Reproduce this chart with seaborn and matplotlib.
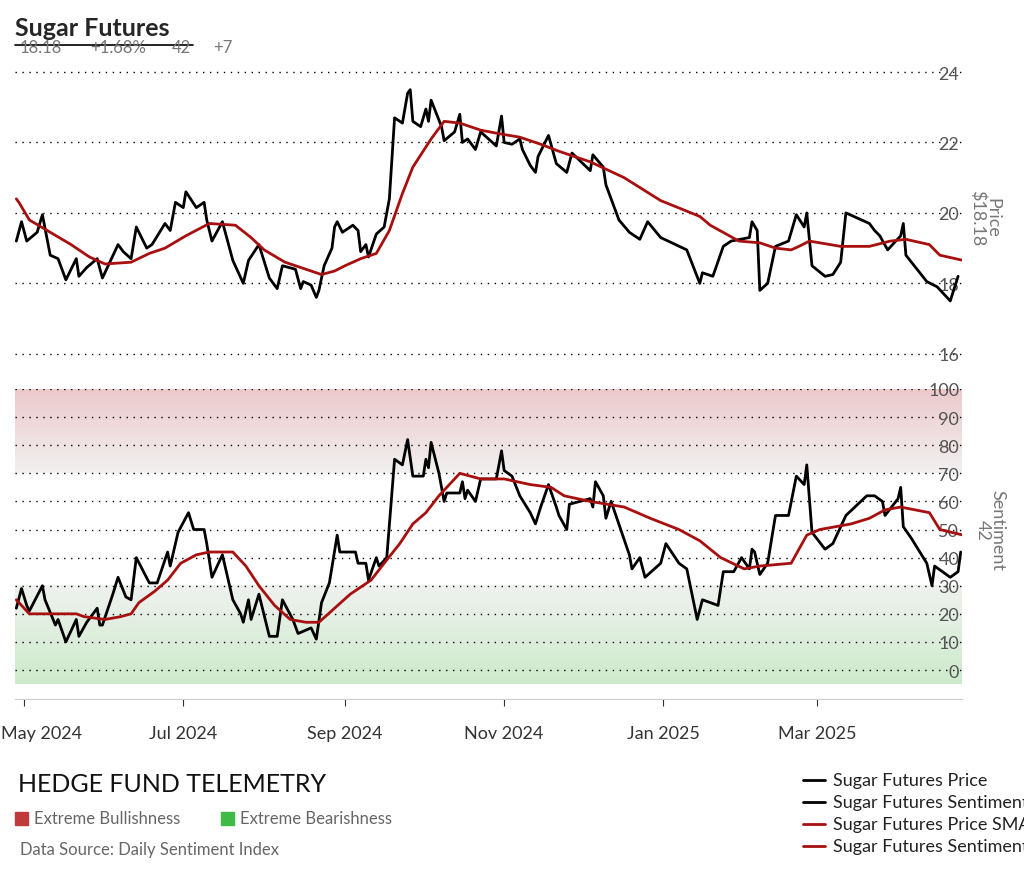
import numpy as np
import pandas as pd
import matplotlib.pyplot as plt
import matplotlib.transforms as mtransforms
import seaborn as sns
from matplotlib.lines import Line2D
from matplotlib.patches import Rectangle

# days since 2024-05-01
price_day = [-3, -1, 1, 5, 7, 10, 13, 16, 20, 21, 24, 28, 30, 36, 38, 41, 43, 47, 49, 54, 56, 58, 61, 62, 66, 69, 70, 72, 76, 80,
             84, 86, 90, 94, 97, 99, 104, 106, 107, 110, 112, 113, 115, 118, 119, 120, 122, 126, 128, 129, 131, 132, 135, 138, 140,
             142, 145, 147, 148, 149, 152, 154, 155, 156, 160, 161, 165, 167, 168, 170, 173, 175, 181, 183, 184, 187, 190, 191, 194,
             196, 197, 201, 204, 208, 210, 217, 218, 222, 223, 228, 232, 236, 239, 244, 254, 259, 260, 264, 268, 271, 278, 279, 281,
             282, 285, 288, 293, 296, 299, 300, 302, 307, 310, 313, 315, 324, 326, 328, 331, 336, 337, 338, 346, 350, 355, 358]
price = [19.2, 19.75, 19.2, 19.45, 19.95, 18.8, 18.7, 18.1, 18.7, 18.2, 18.45, 18.7, 18.15, 19.1, 18.9, 18.7, 19.6, 19.0, 19.1, 19.7,
         19.5, 20.3, 20.15, 20.6, 20.15, 20.3, 19.8, 19.2, 19.75, 18.65, 18.0, 18.65, 19.1, 18.15, 17.85, 18.5, 18.4, 17.85, 18.05,
         17.95, 17.6, 17.8, 18.5, 19.0, 19.6, 19.75, 19.45, 19.65, 19.5, 18.9, 19.1, 18.75, 19.4, 19.6, 20.4, 22.7, 22.55, 23.4, 23.5,
         22.6, 22.45, 22.95, 22.6, 23.2, 22.45, 22.05, 22.3, 22.8, 22.0, 22.1, 21.8, 22.3, 21.9, 22.75, 22.0, 21.95, 22.1, 21.8, 21.35,
         21.15, 21.6, 22.2, 21.4, 21.15, 21.7, 21.2, 21.65, 21.3, 20.8, 19.8, 19.45, 19.25, 19.75, 19.3, 18.95, 18.0, 18.3, 18.2, 19.05,
         19.2, 19.3, 19.75, 19.5, 17.8, 18.0, 19.05, 19.2, 19.95, 19.6, 20.0, 18.5, 18.2, 18.25, 18.6, 20.0, 19.7, 19.5, 19.35, 18.95,
         19.35, 19.7, 18.8, 18.05, 17.9, 17.5, 18.2]

price_sma_day = [-3, -2, 2, 10, 18, 25, 31, 41, 48, 54, 62, 71, 81, 87, 92, 100, 108, 114, 119, 123, 129, 135, 140, 145, 149, 156,
                 161, 167, 175, 182, 190, 198, 205, 217, 230, 244, 259, 263, 274, 282, 288, 294, 297, 301, 313, 324, 332, 338, 347,
                 351, 360]
price_sma = [20.4, 20.3, 19.8, 19.45, 19.1, 18.75, 18.55, 18.6, 18.85, 19.0, 19.35, 19.7, 19.65, 19.3, 18.95, 18.6, 18.4, 18.25,
             18.35, 18.5, 18.7, 18.85, 19.5, 20.55, 21.3, 22.1, 22.6, 22.55, 22.35, 22.25, 22.15, 21.95, 21.75, 21.45, 21.0, 20.35,
             19.9, 19.65, 19.2, 19.15, 19.0, 18.95, 19.05, 19.2, 19.05, 19.05, 19.2, 19.25, 19.1, 18.8, 18.65]

sent_day = [-3, -1, 1, 2, 7, 8, 12, 13, 16, 20, 21, 24, 28, 29, 30, 34, 36, 39, 41, 43, 48, 51, 55, 56, 59, 63, 65, 69, 70, 72, 76,
            80, 83, 84, 86, 87, 90, 94, 97, 99, 103, 105, 110, 112, 114, 117, 120, 121, 127, 128, 131, 132, 135, 136, 139, 142, 145,
            147, 149, 153, 154, 155, 156, 159, 161, 162, 167, 168, 169, 170, 173, 175, 181, 183, 184, 187, 190, 194, 196, 198, 201,
            204, 205, 208, 209, 217, 218, 219, 222, 223, 225, 232, 233, 236, 238, 244, 246, 251, 254, 258, 260, 266, 268, 272, 275,
            278, 279, 280, 282, 285, 288, 293, 296, 299, 300, 302, 307, 310, 313, 315, 323, 326, 329, 330, 335, 336, 337, 340, 346,
            348, 349, 355, 358, 359]
sentiment = [22, 29, 23, 21, 30, 25, 16, 18, 10, 18, 12, 17, 22, 16, 16, 27, 33, 26, 25, 40, 31, 31, 42, 37, 49, 56, 50, 50, 45, 33,
             41, 25, 20, 17, 25, 18, 27, 12, 12, 25, 18, 13, 15, 11, 24, 31, 48, 42, 42, 38, 38, 32, 40, 37, 40, 75, 73, 82, 69, 69, 75,
             72, 81, 70, 60, 63, 63, 67, 61, 64, 60, 68, 68, 78, 71, 69, 62, 56, 52, 58, 66, 58, 55, 50, 59, 61, 58, 67, 62, 54, 60, 41,
             36, 40, 33, 38, 45, 38, 36, 18, 25, 23, 35, 35, 40, 36, 43, 42, 34, 38, 55, 55, 69, 66, 73, 49, 43, 45, 51, 55, 62, 62, 60,
             55, 61, 65, 51, 47, 38, 30, 37, 33, 35, 42]

sent_sma_day = [-3, -1, 2, 10, 15, 20, 23, 31, 37, 41, 44, 50, 55, 60, 66, 71, 80, 85, 90, 96, 102, 108, 113, 119, 125, 133, 138,
                144, 149, 154, 159, 167, 175, 184, 194, 202, 207, 217, 230, 240, 251, 259, 267, 276, 282, 294, 297, 300, 305, 317,
                324, 330, 336, 347, 351, 360]
sent_sma = [25, 23, 20, 20, 20, 20, 19, 18, 19, 20, 24, 28, 32, 38, 41, 42, 42, 37, 30, 23, 18, 17, 17, 22, 27, 32, 38, 45, 52,
            56, 62, 70, 68, 68, 66, 65, 62, 60, 58, 54, 50, 46, 40, 36, 37, 38, 43, 48, 50, 52, 54, 57, 58, 56, 50, 48]

month_ticks = ["2024-05-01", "2024-07-01", "2024-09-01", "2024-11-01", "2025-01-01", "2025-03-01"]
month_labels = ["May 2024", "Jul 2024", "Sep 2024", "Nov 2024", "Jan 2025", "Mar 2025"]

base = pd.Timestamp("2024-05-01")
to_date = lambda days: base + pd.to_timedelta(days, unit="D")
price_df = pd.DataFrame({"date": to_date(price_day), "v": price})
psma_df = pd.DataFrame({"date": to_date(price_sma_day), "v": price_sma})
sent_df = pd.DataFrame({"date": to_date(sent_day), "v": sentiment})
ssma_df = pd.DataFrame({"date": to_date(sent_sma_day), "v": sent_sma})

sns.set_style("white")
plt.rcParams["font.family"] = ["Lato", "DejaVu Sans"]

W, H = 1024, 878
fig = plt.figure(figsize=(W / 100, H / 100), dpi=100)
x0, x1 = 15 / W, 962 / W
ax1 = fig.add_axes([x0, 1 - 390 / H, x1 - x0, 330 / H])
ax2 = fig.add_axes([x0, 1 - 700 / H, x1 - x0, 310 / H], sharex=ax1)

red = "#a80f0f"
grey = "#555555"
sns.lineplot(data=price_df, x="date", y="v", ax=ax1, color="black", lw=2)
sns.lineplot(data=psma_df, x="date", y="v", ax=ax1, color=red, lw=2)
sns.lineplot(data=sent_df, x="date", y="v", ax=ax2, color="black", lw=2)
sns.lineplot(data=ssma_df, x="date", y="v", ax=ax2, color=red, lw=2)

xmin, xmax = to_date(-3.5), to_date(359.5)
ax1.set_ylim(15.0, 24.37)
ax2.set_ylim(-10.3, 100)

# gradient zones on sentiment panel
red_grad = np.linspace(0, 1, 100).reshape(-1, 1)
ax2.imshow(red_grad, extent=[xmin, xmax, 70, 100], origin="lower", aspect="auto",
           cmap=sns.light_palette("#ecc9cb", as_cmap=True), zorder=0)
green_grad = np.linspace(1, 0, 100).reshape(-1, 1)
ax2.imshow(green_grad, extent=[xmin, xmax, -5, 30], origin="lower", aspect="auto",
           cmap=sns.light_palette("#cdebcb", as_cmap=True), zorder=0)
ax1.set_xlim(xmin, xmax)

for ax, ticks in [(ax1, [16, 18, 20, 22, 24]), (ax2, list(range(0, 101, 10)))]:
    for s in ax.spines.values():
        s.set_visible(False)
    ax.set_yticks(ticks)
    ax.yaxis.tick_right()
    ax.tick_params(axis="y", length=0, pad=-2, labelsize=13, labelcolor=grey)
    for t in ax.get_yticklabels():
        t.set_horizontalalignment("right")
    ax.grid(axis="y", color="black", ls=(0, (1, 4)), lw=1)
    ax.set_xlabel("")
    ax.set_ylabel("")

fig.text(985 / W, 1 - 218 / H, "Price\n$18.18", rotation=270, color="#777777", fontsize=13,
         ha="center", va="center", linespacing=0.9)
fig.text(990 / W, 1 - 530 / H, "Sentiment\n42", rotation=270, color="#777777", fontsize=13,
         ha="center", va="center", linespacing=0.9)

ax1.tick_params(axis="x", bottom=False, labelbottom=False)
ax2.set_xticks(pd.to_datetime(month_ticks))
ax2.set_xticklabels(month_labels)
ax2.tick_params(axis="x", bottom=True, length=5, pad=14, labelsize=13, colors="#333333")
ax2.spines["bottom"].set_visible(True)
ax2.spines["bottom"].set_color("#cccccc")
first = ax2.get_xticklabels()[0]
first.set_transform(first.get_transform() + mtransforms.ScaledTranslation(0.17, 0, fig.dpi_scale_trans))

# header
fig.text(15 / W, 1 - 29 / H, "Sugar Futures", fontsize=18, fontweight="bold", va="center")
fig.text(20 / W, 1 - 48 / H, "18.18", fontsize=12, color="#777777", va="center")
fig.text(90 / W, 1 - 48 / H, "+1.68%", fontsize=12, color="#777777", va="center")
fig.text(172 / W, 1 - 48 / H, "42", fontsize=12, color="#777777", va="center")
fig.text(213 / W, 1 - 48 / H, "+7", fontsize=12, color="#777777", va="center")
fig.add_artist(Line2D([15 / W, 193 / W], [1 - 46 / H, 1 - 46 / H], color="black", lw=1.2))

# footer
fig.text(18 / W, 1 - 785 / H, "HEDGE FUND TELEMETRY", fontsize=18, va="center", color="#111111")
fig.add_artist(Rectangle((15 / W, 1 - 826 / H), 13 / W, 13 / H, color="#c0393b"))
fig.text(34 / W, 1 - 819 / H, "Extreme Bullishness", fontsize=12, color="#666666", va="center")
fig.add_artist(Rectangle((221 / W, 1 - 826 / H), 13 / W, 13 / H, color="#3fba46"))
fig.text(240 / W, 1 - 819 / H, "Extreme Bearishness", fontsize=12, color="#666666", va="center")
fig.text(20 / W, 1 - 850 / H, "Data Source: Daily Sentiment Index", fontsize=12, color="#666666", va="center")

legend_items = [("Sugar Futures Price", "black"), ("Sugar Futures Sentiment", "black"),
                ("Sugar Futures Price SMA", red), ("Sugar Futures Sentiment SMA", red)]
for i, (lab, c) in enumerate(legend_items):
    y = 1 - (781 + 22 * i) / H
    fig.add_artist(Line2D([803 / W, 825 / W], [y, y], color=c, lw=2))
    fig.text(833 / W, y, lab, fontsize=13, va="center", color="#222222")

fig.savefig("out.png", dpi=100)
